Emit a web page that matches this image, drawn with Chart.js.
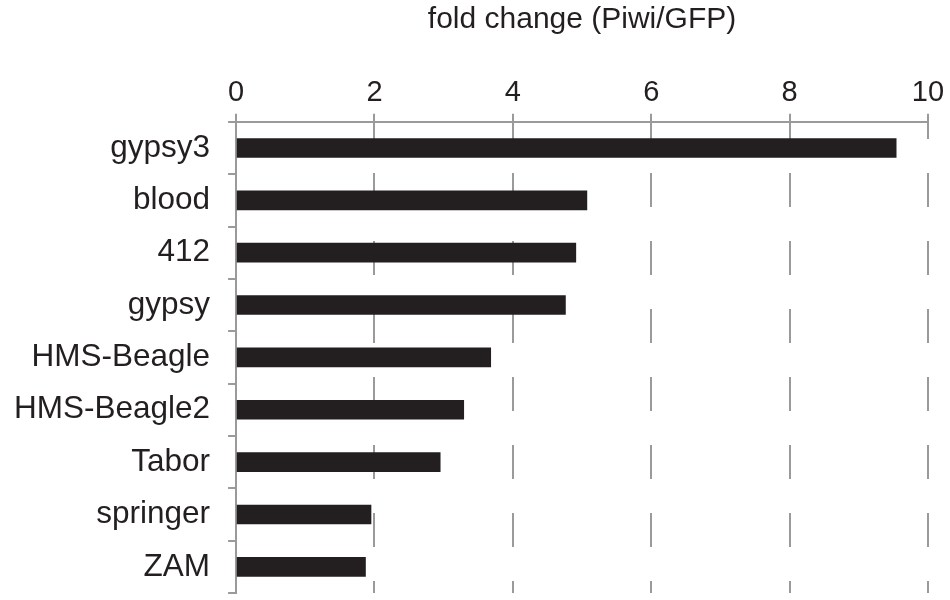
<!DOCTYPE html>
<html>
<head>
<meta charset="utf-8">
<script src="https://cdn.jsdelivr.net/npm/chart.js@4/dist/chart.umd.min.js"></script>
<style>
  html, body { margin: 0; padding: 0; background: #ffffff; }
  #wrap { width: 950px; height: 600px; position: relative; }
</style>
</head>
<body>
<div id="wrap"><canvas id="fold-canv"></canvas></div>
<script>
const elements = ['gypsy3', 'blood', '412', 'gypsy', 'HMS-Beagle', 'HMS-Beagle2', 'Tabor', 'springer', 'ZAM'];
const foldChange = [9.54, 5.07, 4.91, 4.76, 3.68, 3.29, 2.95, 1.95, 1.87];
const xTicks = [0, 2, 4, 6, 8, 10];

const ink = '#231f20';
const axisGrey = '#9a9a9a';
const font = "'Liberation Sans', Arial, Helvetica, sans-serif";

const data = {
    labels: elements,
    datasets: [{
        label: 'fold change (Piwi/GFP)',
        data: foldChange,
        backgroundColor: ink,
        borderWidth: 0,
        barThickness: 19,
    }]
};

const config = {
    type: 'bar',
    data,
    options: {
        indexAxis: 'y',
        responsive: true,
        maintainAspectRatio: false,
        animation: false,
        layout: {
            padding: { top: 2, right: 22, bottom: 7, left: 14 }
        },
        scales: {
            x: {
                position: 'top',
                min: xTicks[0],
                max: xTicks[xTicks.length - 1],
                afterBuildTicks: (axis) => {
                    axis.ticks = xTicks.map(v => ({ value: v }));
                },
                // labels at the ends may spill over, like the original
                afterFit: (axis) => {
                    axis.paddingLeft = 0;
                    axis.paddingRight = 0;
                },
                grid: {
                    display: true,
                    drawOnChartArea: true,
                    drawTicks: true,
                    tickLength: 8,
                    lineWidth: 2,
                    color: axisGrey,
                    tickColor: axisGrey,
                },
                border: {
                    display: true,
                    color: axisGrey,
                    width: 2,
                    dash: [34, 34],
                    dashOffset: 18,
                },
                ticks: {
                    font: { size: 29, family: font },
                    color: ink,
                    padding: 3,
                    maxRotation: 0,
                },
                title: {
                    display: true,
                    text: 'fold change (Piwi/GFP)',
                    font: { size: 30, family: font },
                    color: ink,
                    padding: { top: 0, bottom: 35 },
                }
            },
            y: {
                // chart.js reserves the tick padding twice, take one back
                afterFit: (axis) => {
                    axis.paddingTop = 0;
                    axis.paddingBottom = 0;
                    axis.width -= axis.options.ticks.padding;
                },
                grid: {
                    display: true,
                    drawOnChartArea: false,
                    drawTicks: true,
                    tickLength: 8,
                    lineWidth: 2,
                    color: axisGrey,
                    tickColor: axisGrey,
                },
                border: {
                    display: true,
                    color: axisGrey,
                    width: 2,
                },
                ticks: {
                    font: { size: 31.5, family: font },
                    color: ink,
                    padding: 18,
                }
            }
        },
        plugins: {
            legend: { display: false },
            tooltip: { enabled: false }
        }
    }
};

var myChart = new Chart(
    document.getElementById('fold-canv'),
    config
);
</script>
</body>
</html>
